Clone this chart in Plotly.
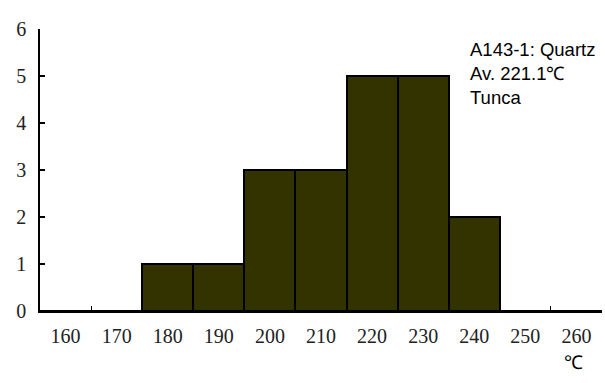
import plotly.graph_objects as go

# Histogram of homogenisation temperatures (10 °C bins)
bin_centers = [160, 170, 180, 190, 200, 210, 220, 230, 240, 250, 260]
counts = [0, 0, 1, 1, 3, 3, 5, 5, 2, 0, 0]
tick_labels = [str(v) for v in bin_centers]
bin_width = 10
y_ticks = [0, 1, 2, 3, 4, 5, 6]

bin_edges = [c + bin_width / 2 for c in bin_centers[:-1]]
x_range = [bin_centers[0] - bin_width / 2, bin_centers[-1] + bin_width / 2]

serif = "Liberation Serif, Times New Roman, serif"
sans = "Liberation Sans, Arial, sans-serif"

fig = go.Figure()
fig.add_trace(go.Bar(
    x=bin_centers, y=counts, width=bin_width,
    marker=dict(color="#333300", line=dict(color="#000000", width=2)),
    showlegend=False, hoverinfo="x+y",
))
# invisible trace so the boundary-tick axis is drawn
fig.add_trace(go.Scatter(x=x_range, y=[0, 0], xaxis="x2", mode="lines",
                         line=dict(width=0), showlegend=False, hoverinfo="skip"))

fig.update_layout(
    width=605, height=383,
    margin=dict(l=40, r=3, t=29, b=72),
    paper_bgcolor="white", plot_bgcolor="white",
    bargap=0,
    xaxis=dict(
        range=x_range, tickvals=bin_centers, ticktext=tick_labels,
        ticks="", showgrid=False, zeroline=False,
        showline=True, linecolor="black", linewidth=1.5,
        tickfont=dict(family=serif, size=20, color="#222"),
        ticklabelstandoff=6,
    ),
    xaxis2=dict(
        overlaying="x", range=x_range, tickvals=bin_edges,
        ticktext=["" for _ in bin_edges], ticks="inside", ticklen=5,
        tickcolor="black", tickwidth=1, showgrid=False, zeroline=False,
        showline=False, side="bottom", anchor="y",
    ),
    yaxis=dict(
        range=[0, 6], tickvals=y_ticks, ticks="inside", ticklen=5,
        tickcolor="black", tickwidth=1.5, showgrid=False, zeroline=False,
        showline=True, linecolor="black", linewidth=1.5,
        tickfont=dict(family=serif, size=20, color="#222"),
        ticklabelstandoff=8,
    ),
    annotations=[
        dict(xref="paper", yref="paper", x=0.762, y=0.972, xanchor="left", yanchor="top",
             text="A143-1: Quartz<br>Av. 221.1℃<br>Tunca", showarrow=False, align="left",
             font=dict(family=sans, size=18.5, color="black")),
        dict(xref="x", yref="paper", x=260, y=-0.14, xanchor="center", yanchor="top",
             xshift=-3, text="℃", showarrow=False,
             font=dict(family=sans, size=19, color="black")),
    ],
)

fig.write_html("out.html")
